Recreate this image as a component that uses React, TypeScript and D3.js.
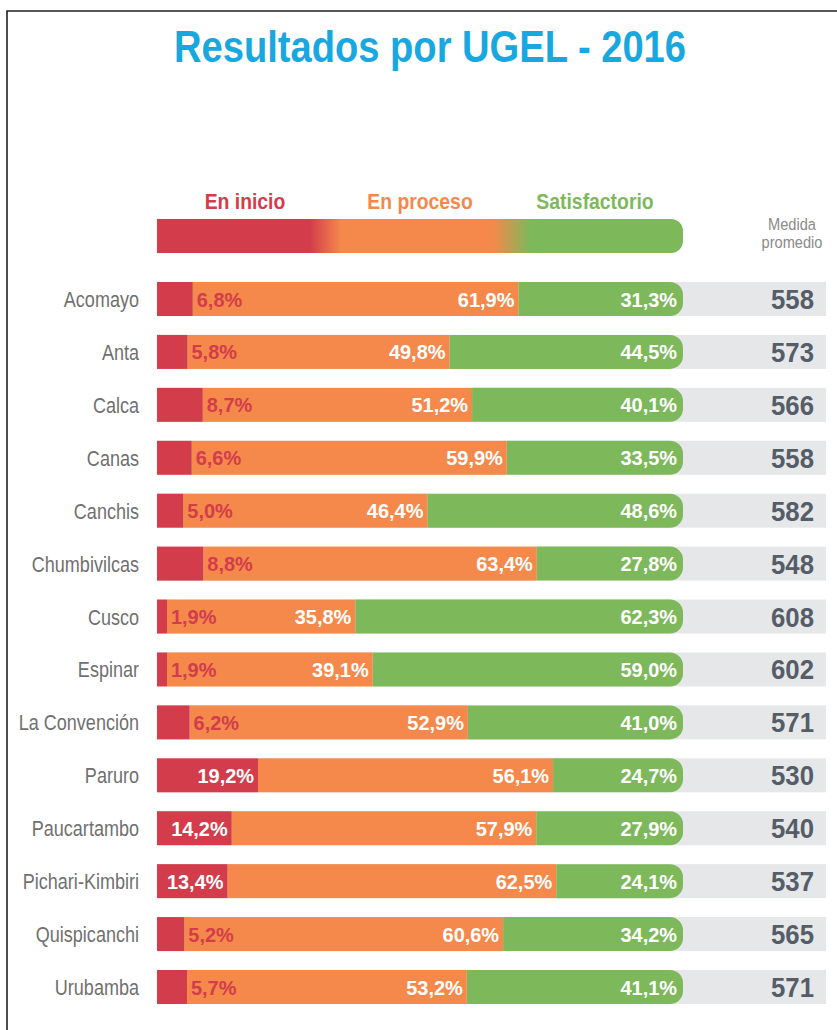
import React from "react";
import * as d3 from "d3";

const categories = [
  "Acomayo", "Anta", "Calca", "Canas", "Canchis", "Chumbivilcas", "Cusco",
  "Espinar", "La Convención", "Paruro", "Paucartambo", "Pichari-Kimbiri",
  "Quispicanchi", "Urubamba",
];
const enInicio = [6.8, 5.8, 8.7, 6.6, 5.0, 8.8, 1.9, 1.9, 6.2, 19.2, 14.2, 13.4, 5.2, 5.7];
const enProceso = [61.9, 49.8, 51.2, 59.9, 46.4, 63.4, 35.8, 39.1, 52.9, 56.1, 57.9, 62.5, 60.6, 53.2];
const satisfactorio = [31.3, 44.5, 40.1, 33.5, 48.6, 27.8, 62.3, 59.0, 41.0, 24.7, 27.9, 24.1, 34.2, 41.1];
const medida = [558, 573, 566, 558, 582, 548, 608, 602, 571, 530, 540, 537, 565, 571];
const legendLabels = ["En inicio", "En proceso", "Satisfactorio"];

const RED = "#d33c4b";
const ORANGE = "#f4894b";
const GREEN = "#7db85b";
const GRAY = "#e6e7e8";
const FONT = "'Liberation Sans', Arial, sans-serif";

const fmt = (v: number) => v.toFixed(1).replace(".", ",") + "%";

function CText(props: any) {
  const { x, y, sx = 1, children, ...rest } = props;
  return (
    <text transform={`translate(${x},${y}) scale(${sx},1)`} fontFamily={FONT} {...rest}>
      {children}
    </text>
  );
}

export default function App() {
  const W = 837, H = 1030;
  const x = d3.scaleLinear().domain([0, 100]).range([157, 683]);
  const y = d3.scalePoint<string>().domain(categories).range([299, 987]);
  const bh = 34;
  const r = 13;
  const grayEnd = 826;

  const rows = categories.map((c, i) => ({
    c, a: enInicio[i], b: enProceso[i], s: satisfactorio[i], m: medida[i],
  }));
  const stack = d3.stack<any>().keys(["a", "b", "s"])(rows as any);

  const roundedRight = (x0: number, x1: number, yTop: number, h: number, rad: number) => {
    const p = d3.path();
    p.moveTo(x0, yTop);
    p.lineTo(x1 - rad, yTop);
    p.arcTo(x1, yTop, x1, yTop + rad, rad);
    p.lineTo(x1, yTop + h - rad);
    p.arcTo(x1, yTop + h, x1 - rad, yTop + h, rad);
    p.lineTo(x0, yTop + h);
    p.closePath();
    return p.toString();
  };

  const legendColors = [RED, ORANGE, GREEN];
  const legendCenters = [245, 420, 595];

  return (
    <svg width={W} height={H} style={{ position: "absolute", left: 0, top: 0, background: "#fff" }}>
      <defs>
        <linearGradient id="lg" x1="0" x2="1" y1="0" y2="0">
          <stop offset="0" stopColor={RED} />
          <stop offset="0.29" stopColor={RED} />
          <stop offset="0.35" stopColor={ORANGE} />
          <stop offset="0.64" stopColor={ORANGE} />
          <stop offset="0.71" stopColor={GREEN} />
          <stop offset="1" stopColor={GREEN} />
        </linearGradient>
      </defs>
      {/* frame */}
      <path d={`M${W + 2},11 H7 V${H + 2}`} fill="none" stroke="#222" strokeWidth={1.6} />
      {/* title */}
      <text x={430} y={62} textAnchor="middle" fill="#19a7e0" fontFamily={FONT} fontWeight="bold"
        fontSize={45} textLength={512} lengthAdjust="spacingAndGlyphs">
        Resultados por UGEL - 2016
      </text>
      {/* legend */}
      {legendLabels.map((l, i) => (
        <CText key={l} x={legendCenters[i]} y={209} sx={0.88} textAnchor="middle" fill={legendColors[i]}
          fontWeight="bold" fontSize={22}>{l}</CText>
      ))}
      <path d={roundedRight(x(0), x(100), 219, 34, 12)} fill="url(#lg)" />
      <CText x={792} y={230} sx={0.86} textAnchor="middle" fill="#8a8a8a" fontSize={17}>Medida</CText>
      <CText x={792} y={248} sx={0.86} textAnchor="middle" fill="#8a8a8a" fontSize={17}>promedio</CText>

      {rows.map((d, i) => {
        const cy = y(d.c)!;
        const top = cy - bh / 2;
        const a = stack[0][i], b = stack[1][i];
        const xa0 = x(a[0]), xa1 = x(a[1]);
        const xb1 = x(b[1]);
        const xs1 = x(100);
        const bigRed = d.a >= 10;
        return (
          <g key={d.c}>
            <rect x={x(0)} y={top} width={grayEnd - x(0)} height={bh} fill={GRAY} />
            <path d={roundedRight(xb1, xs1, top, bh, r)} fill={GREEN} />
            <rect x={xa1} y={top} width={xb1 - xa1} height={bh} fill={ORANGE} />
            <rect x={xa0} y={top} width={xa1 - xa0} height={bh} fill={RED} />
            <CText x={139} y={cy + 8} sx={0.82} textAnchor="end" fill="#707070" fontSize={22}>{d.c}</CText>
            <CText x={bigRed ? xa1 - 4 : xa1 + 4} y={cy + 7.5} sx={0.95} textAnchor={bigRed ? "end" : "start"}
              fill={bigRed ? "#fff" : RED} fontWeight="bold" fontSize={21}>{fmt(d.a)}</CText>
            <CText x={xb1 - 4} y={cy + 7.5} sx={0.95} textAnchor="end" fill="#fff" fontWeight="bold" fontSize={21}>{fmt(d.b)}</CText>
            <CText x={xs1 - 6} y={cy + 7.5} sx={0.95} textAnchor="end" fill="#fff" fontWeight="bold" fontSize={21}>{fmt(d.s)}</CText>
            <CText x={814} y={cy + 10} sx={0.92} textAnchor="end" fill="#555d68" fontWeight="bold" fontSize={28}>{d.m}</CText>
          </g>
        );
      })}
    </svg>
  );
}
